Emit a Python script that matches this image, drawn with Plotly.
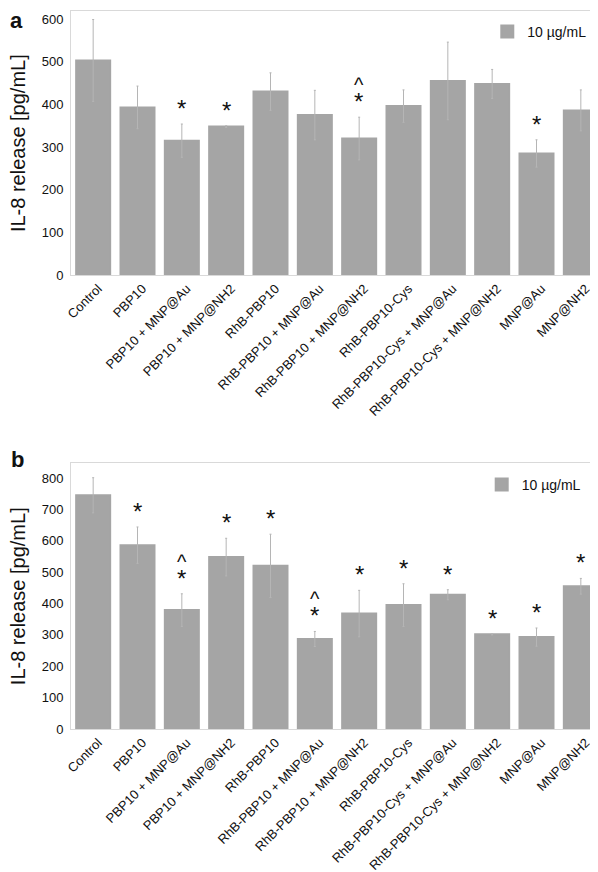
import plotly.graph_objects as go

categories = ["Control", "PBP10", "PBP10 + MNP@Au", "PBP10 + MNP@NH2", "RhB-PBP10",
              "RhB-PBP10 + MNP@Au", "RhB-PBP10 + MNP@NH2", "RhB-PBP10-Cys",
              "RhB-PBP10-Cys + MNP@Au", "RhB-PBP10-Cys + MNP@NH2", "MNP@Au", "MNP@NH2"]

values_a = [503, 393, 315, 348, 430, 375, 320, 396, 455, 448, 285, 386]
err_a = [96, 50, 39, 2, 44, 58, 50, 38, 91, 34, 32, 48]
star_a = [0, 0, 1, 1, 0, 0, 1, 0, 0, 0, 1, 0]
caret_a = [0, 0, 0, 0, 0, 0, 1, 0, 0, 0, 0, 0]

values_b = [745, 586, 379, 548, 520, 287, 368, 395, 428, 302, 293, 455]
err_b = [56, 58, 52, 60, 101, 24, 74, 68, 16, 2, 29, 25]
star_b = [0, 1, 1, 1, 1, 1, 1, 1, 1, 1, 1, 1]
caret_b = [0, 0, 1, 0, 0, 1, 0, 0, 0, 0, 0, 0]

ticks_a = [0, 100, 200, 300, 400, 500, 600]
ticks_b = [0, 100, 200, 300, 400, 500, 600, 700, 800]

series_name = "10 µg/mL"
ytitle = "IL-8 release [pg/mL]"

FONT = "Arial, 'Liberation Sans', Helvetica, sans-serif"
BAR = "#a5a5a5"
FRAME = "#d9d9d9"
ERR = "#b5b5b5"

fig = go.Figure()
fig.add_trace(go.Bar(x=categories, y=values_a, name=series_name, marker_color=BAR,
                     marker_line=dict(color=BAR, width=2),
                     error_y=dict(type="data", array=err_a, color=ERR, thickness=1, width=1),
                     xaxis="x", yaxis="y", legend="legend"))
fig.add_trace(go.Bar(x=categories, y=values_b, name=series_name, marker_color=BAR,
                     marker_line=dict(color=BAR, width=2),
                     error_y=dict(type="data", array=err_b, color=ERR, thickness=1, width=1),
                     xaxis="x2", yaxis="y2", legend="legend2"))

STAR = "<span style='font-size:24px'>*</span>"
CARET = "<span style='font-size:20px'>^</span>"

annots = []
for xr, yr, vals, errs, stars, carets in [("x", "y", values_a, err_a, star_a, caret_a),
                                          ("x2", "y2", values_b, err_b, star_b, caret_b)]:
    for c, v, e, s, k in zip(categories, vals, errs, stars, carets):
        if s:
            txt = (CARET + "<br>" + STAR) if k else STAR
            annots.append(dict(x=c, y=v + e, xref=xr, yref=yr, text=txt, showarrow=False,
                               yanchor="bottom", yshift=0,
                               font=dict(size=14, color="#111", family=FONT)))

# y-axis titles and panel letters
annots.append(dict(x=0, y=0.816, xref="paper", yref="paper", text=ytitle, textangle=-90,
                   showarrow=False, xanchor="center", yanchor="middle", xshift=-53,
                   font=dict(size=20, color="#111", family=FONT)))
annots.append(dict(x=0, y=0.185, xref="paper", yref="paper", text=ytitle, textangle=-90,
                   showarrow=False, xanchor="center", yanchor="middle", xshift=-53,
                   font=dict(size=20, color="#111", family=FONT)))
annots.append(dict(x=0, y=1, xref="paper", yref="paper", text="<b>a</b>", showarrow=False,
                   xanchor="center", yanchor="middle", xshift=-55, yshift=-9,
                   font=dict(size=22, color="#111", family=FONT)))
annots.append(dict(x=0, y=1, xref="paper", yref="paper", text="<b>b</b>", showarrow=False,
                   xanchor="center", yanchor="middle", xshift=-54, yshift=-448,
                   font=dict(size=22, color="#111", family=FONT)))

axis_common = dict(showline=True, linecolor=FRAME, linewidth=1, mirror=True, showgrid=False,
                   zeroline=False, ticks="")

fig.update_layout(
    width=598, height=872,
    margin=dict(l=63, r=3, t=3, b=151),
    paper_bgcolor="white", plot_bgcolor="white",
    font=dict(family=FONT, color="#111", size=13),
    bargap=0.233,
    xaxis=dict(domain=[0, 1], anchor="y", tickangle=-45, tickfont=dict(size=13),
               ticklabelshift=5, **axis_common),
    yaxis=dict(domain=[0.6323, 1], anchor="x", range=[0, 619], tickvals=ticks_a,
               tickfont=dict(size=13), ticklabelstandoff=4, **axis_common),
    xaxis2=dict(domain=[0, 1], anchor="y2", tickangle=-45, tickfont=dict(size=13),
                ticklabelshift=5, **axis_common),
    yaxis2=dict(domain=[0, 0.3705], anchor="x2", range=[0, 848], tickvals=ticks_b,
                tickfont=dict(size=13), ticklabelstandoff=4, **axis_common),
    legend=dict(x=0.7825, y=0.9708, xanchor="left", yanchor="middle", bgcolor="rgba(0,0,0,0)",
                font=dict(size=14, family=FONT, color="#111")),
    legend2=dict(x=0.772, y=0.340, xanchor="left", yanchor="middle", bgcolor="rgba(0,0,0,0)",
                 font=dict(size=14, family=FONT, color="#111")),
    showlegend=True,
    annotations=annots,
)

fig.write_html("out.html")
